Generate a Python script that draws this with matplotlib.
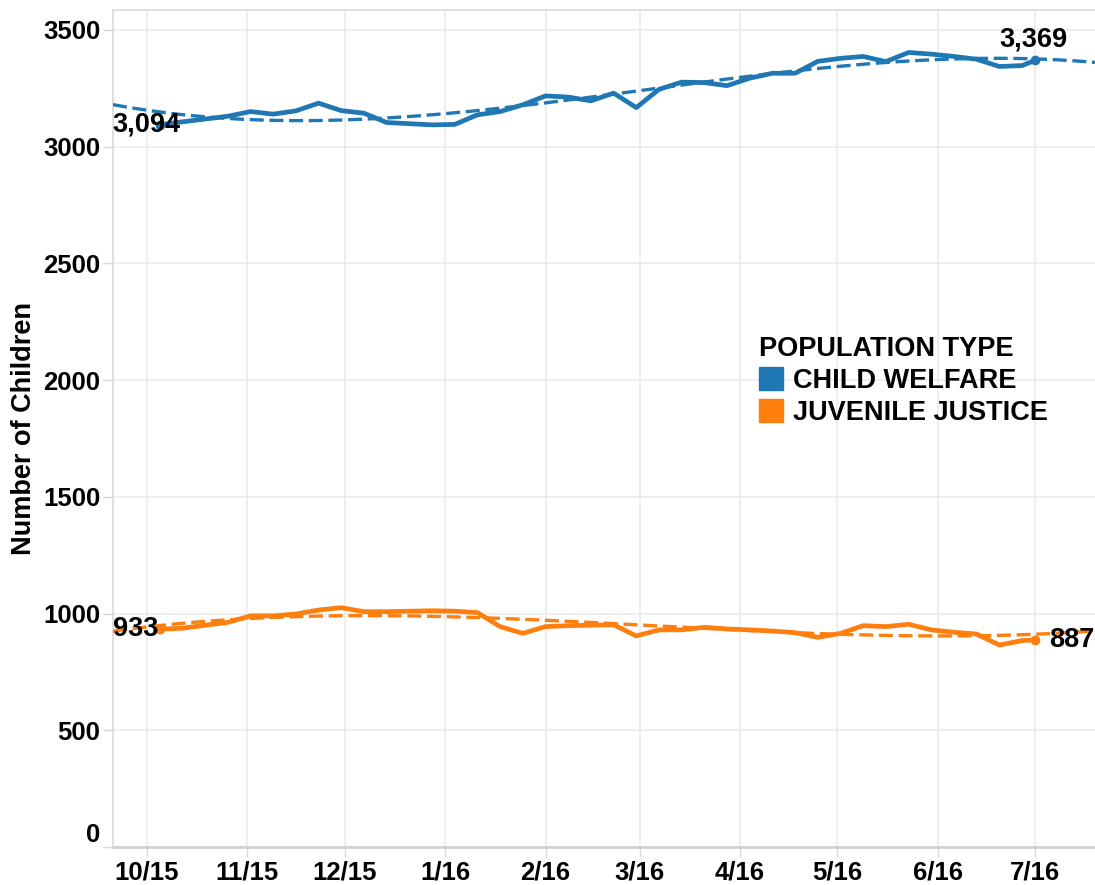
import matplotlib
matplotlib.use('Agg')
import matplotlib.pyplot as plt
import matplotlib.dates as mdates
from matplotlib.patches import Patch
import numpy as np
from datetime import datetime

plt.rcParams['font.family'] = ['Liberation Sans', 'DejaVu Sans']
plt.rcParams['font.weight'] = 'bold'

# --- données ---
week_dates = [
    '2015-10-05', '2015-10-12', '2015-10-19', '2015-10-26',
    '2015-11-02', '2015-11-09', '2015-11-16', '2015-11-23', '2015-11-30',
    '2015-12-07', '2015-12-14', '2015-12-21', '2015-12-28',
    '2016-01-04', '2016-01-11', '2016-01-18', '2016-01-25',
    '2016-02-01', '2016-02-08', '2016-02-15', '2016-02-22', '2016-02-29',
    '2016-03-07', '2016-03-14', '2016-03-21', '2016-03-28',
    '2016-04-04', '2016-04-11', '2016-04-18', '2016-04-25',
    '2016-05-02', '2016-05-09', '2016-05-16', '2016-05-23', '2016-05-30',
    '2016-06-06', '2016-06-13', '2016-06-20', '2016-06-27', '2016-07-01',
]
child_welfare = [
    3094, 3106, 3118, 3130,
    3150, 3139, 3153, 3186, 3154,
    3143, 3103, 3098, 3093,
    3095, 3136, 3150, 3179,
    3217, 3212, 3196, 3229, 3167,
    3245, 3276, 3274, 3261,
    3293, 3314, 3314, 3365,
    3378, 3386, 3364, 3403, 3396,
    3386, 3374, 3343, 3347, 3369,
]
juvenile_justice = [
    933, 937, 950, 962,
    990, 990, 998, 1015, 1025,
    1008, 1008, 1010, 1012,
    1010, 1004, 944, 915,
    944, 948, 950, 952, 904,
    930, 930, 941, 934,
    930, 925, 918, 898,
    915, 948, 944, 954, 930,
    920, 912, 865, 884, 887,
]
month_ticks = ['2015-10-01', '2015-11-01', '2015-12-01', '2016-01-01', '2016-02-01',
               '2016-03-01', '2016-04-01', '2016-05-01', '2016-06-01', '2016-07-01']
month_labels = ['10/15', '11/15', '12/15', '1/16', '2/16', '3/16', '4/16', '5/16', '6/16', '7/16']
y_ticks = [0, 500, 1000, 1500, 2000, 2500, 3000, 3500]

blue = '#1f77b4'
orange = '#ff7f0e'
grid_c = '#ebebeb'
fs = 18.5      # graduations
fs_txt = 19.5  # légende, titre d'axe, étiquettes

x = mdates.date2num([datetime.strptime(d, '%Y-%m-%d') for d in week_dates])
x_min = mdates.date2num(datetime(2015, 9, 20, 14))
x_max = mdates.date2num(datetime(2016, 7, 19, 12))

fig = plt.figure(figsize=(10.95, 8.85), dpi=100)
ax = fig.add_axes([113 / 1095, 1 - 847 / 885, 1 - 113 / 1095, (847 - 10) / 885])

# courbes
ax.plot(x, child_welfare, color=blue, lw=3.4, solid_joinstyle='round', zorder=3)
ax.plot(x, juvenile_justice, color=orange, lw=3.4, solid_joinstyle='round', zorder=3)

# tendances (polynôme degré 3)
x_fine = np.linspace(x_min, x_max, 300)
for serie, col in [(child_welfare, blue), (juvenile_justice, orange)]:
    coefs = np.polyfit(x - x[0], serie, 3)
    ax.plot(x_fine, np.polyval(coefs, x_fine - x[0]), color=col, lw=2.4,
            linestyle=(0, (4.2, 1.7)), zorder=4)

# étiquettes des extrémités
ax.plot([x[0], x[-1]], [child_welfare[0], child_welfare[-1]], 'o', color=blue, ms=6, zorder=5)
ax.plot([x[0], x[-1]], [juvenile_justice[0], juvenile_justice[-1]], 'o', color=orange, ms=6, zorder=5)
ax.annotate(f'{child_welfare[0]:,}', xy=(x[0], child_welfare[0]), xytext=(-34, 0),
            textcoords='offset points', ha='left', va='center', fontsize=fs_txt, fontweight='bold', zorder=6)
ax.annotate(f'{child_welfare[-1]:,}', xy=(x[-1], child_welfare[-1]), xytext=(-1, 6),
            textcoords='offset points', ha='center', va='bottom', fontsize=fs_txt, fontweight='bold', zorder=6)
ax.annotate(f'{juvenile_justice[0]:,}', xy=(x[0], juvenile_justice[0]), xytext=(-1, 0),
            textcoords='offset points', ha='right', va='center', fontsize=fs_txt, fontweight='bold', zorder=6)
ax.annotate(f'{juvenile_justice[-1]:,}', xy=(x[-1], juvenile_justice[-1]), xytext=(10, 0),
            textcoords='offset points', ha='left', va='center', fontsize=fs_txt, fontweight='bold', zorder=6)

# axes
ax.set_xlim(x_min, x_max)
ax.set_ylim(0, 3585)
ax.set_xticks(mdates.date2num([datetime.strptime(d, '%Y-%m-%d') for d in month_ticks]))
ax.set_xticklabels(month_labels, fontsize=fs, fontweight='bold')
ax.set_yticks(y_ticks)
ax.set_yticklabels([str(v) for v in y_ticks], fontsize=fs, fontweight='bold')
for lab in ax.get_yticklabels():
    if lab.get_text() == '0':
        lab.set_va('bottom')
ax.tick_params(axis='both', length=7, color='#d9d9d9', width=1, pad=3)
ax.tick_params(axis='y', pad=2)
ax.grid(True, color=grid_c, lw=1.2, zorder=0)
ax.set_axisbelow(True)
for side in ['left', 'top']:
    ax.spines[side].set_color('#d9d9d9')
    ax.spines[side].set_linewidth(1.2)
ax.spines['bottom'].set_color('#d0d0d0')
ax.spines['bottom'].set_linewidth(2)
ax.spines['right'].set_visible(False)

ax.set_ylabel('Number of Children', fontsize=fs_txt, fontweight='bold')
ax.yaxis.set_label_coords(-0.077, 0.5)

handles = [Patch(color=blue, label='CHILD WELFARE'), Patch(color=orange, label='JUVENILE JUSTICE')]
leg = fig.legend(handles=handles, title='POPULATION TYPE', loc='upper left',
                 bbox_to_anchor=(759 / 1095, 1 - 336 / 885), frameon=False,
                 prop={'size': fs_txt, 'weight': 'bold'}, alignment='left',
                 handlelength=0.9, handleheight=0.9, handletextpad=0.35,
                 labelspacing=0.2, borderpad=0, borderaxespad=0)
leg.get_title().set_fontsize(fs_txt)
leg.get_title().set_fontweight('bold')

fig.savefig('out.png', dpi=100)
